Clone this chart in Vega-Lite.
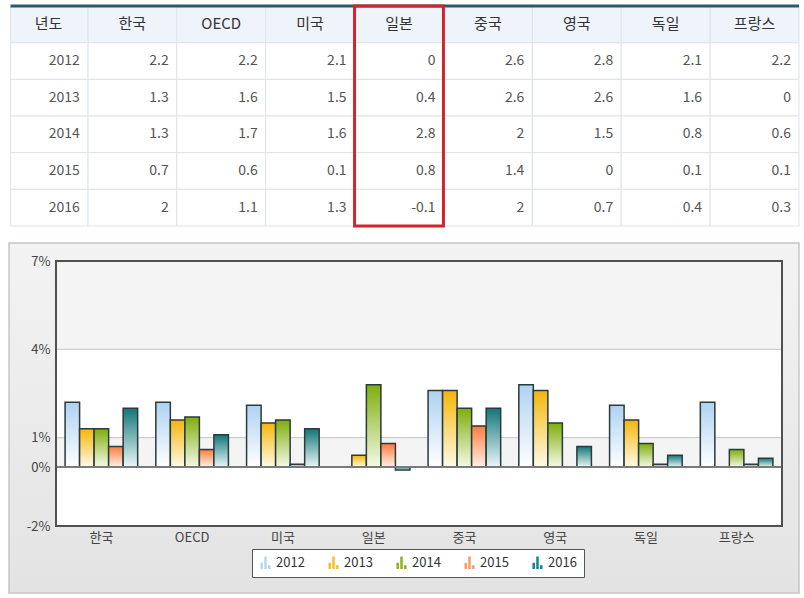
{
  "$schema": "https://vega.github.io/schema/vega-lite/v6.json",
  "background": "white",
  "padding": {"left": 8, "top": 4, "right": 5, "bottom": 6},
  "spacing": 14,
  "config": {
    "font": "Noto Sans CJK KR",
    "view": {"stroke": null}
  },
  "datasets": {
    "gdp": [
      {"국가": "한국", "연도": "2012", "값": 2.2},
      {"국가": "한국", "연도": "2013", "값": 1.3},
      {"국가": "한국", "연도": "2014", "값": 1.3},
      {"국가": "한국", "연도": "2015", "값": 0.7},
      {"국가": "한국", "연도": "2016", "값": 2},
      {"국가": "OECD", "연도": "2012", "값": 2.2},
      {"국가": "OECD", "연도": "2013", "값": 1.6},
      {"국가": "OECD", "연도": "2014", "값": 1.7},
      {"국가": "OECD", "연도": "2015", "값": 0.6},
      {"국가": "OECD", "연도": "2016", "값": 1.1},
      {"국가": "미국", "연도": "2012", "값": 2.1},
      {"국가": "미국", "연도": "2013", "값": 1.5},
      {"국가": "미국", "연도": "2014", "값": 1.6},
      {"국가": "미국", "연도": "2015", "값": 0.1},
      {"국가": "미국", "연도": "2016", "값": 1.3},
      {"국가": "일본", "연도": "2012", "값": 0},
      {"국가": "일본", "연도": "2013", "값": 0.4},
      {"국가": "일본", "연도": "2014", "값": 2.8},
      {"국가": "일본", "연도": "2015", "값": 0.8},
      {"국가": "일본", "연도": "2016", "값": -0.1},
      {"국가": "중국", "연도": "2012", "값": 2.6},
      {"국가": "중국", "연도": "2013", "값": 2.6},
      {"국가": "중국", "연도": "2014", "값": 2},
      {"국가": "중국", "연도": "2015", "값": 1.4},
      {"국가": "중국", "연도": "2016", "값": 2},
      {"국가": "영국", "연도": "2012", "값": 2.8},
      {"국가": "영국", "연도": "2013", "값": 2.6},
      {"국가": "영국", "연도": "2014", "값": 1.5},
      {"국가": "영국", "연도": "2015", "값": 0},
      {"국가": "영국", "연도": "2016", "값": 0.7},
      {"국가": "독일", "연도": "2012", "값": 2.1},
      {"국가": "독일", "연도": "2013", "값": 1.6},
      {"국가": "독일", "연도": "2014", "값": 0.8},
      {"국가": "독일", "연도": "2015", "값": 0.1},
      {"국가": "독일", "연도": "2016", "값": 0.4},
      {"국가": "프랑스", "연도": "2012", "값": 2.2},
      {"국가": "프랑스", "연도": "2013", "값": 0},
      {"국가": "프랑스", "연도": "2014", "값": 0.6},
      {"국가": "프랑스", "연도": "2015", "값": 0.1},
      {"국가": "프랑스", "연도": "2016", "값": 0.3}
    ]
  },
  "vconcat": [
    {
      "width": 743,
      "height": 220,
      "view": {"fill": null, "stroke": null},
      "data": {"name": "gdp"},
      "layer": [
        {
          "mark": {"type": "rect", "fill": "white", "stroke": "#dde3ea", "strokeWidth": 1},
          "encoding": {
            "x": {
              "field": "국가", "type": "nominal",
              "scale": {"domain": ["년도", "한국", "OECD", "미국", "일본", "중국", "영국", "독일", "프랑스"], "range": [-57, 743], "paddingInner": 0, "paddingOuter": 0},
              "axis": null
            },
            "y": {
              "field": "연도", "type": "nominal",
              "scale": {"domain": ["헤더", "2012", "2013", "2014", "2015", "2016"], "paddingInner": 0, "paddingOuter": 0},
              "axis": null
            }
          }
        },
        {
          "transform": [{"aggregate": [{"op": "count", "as": "n"}], "groupby": ["연도"]}],
          "mark": {"type": "rect", "fill": "white", "stroke": "#dde3ea", "strokeWidth": 1},
          "encoding": {
            "x": {"datum": "년도", "type": "nominal", "bandPosition": 0.13},
            "x2": {"datum": "년도", "bandPosition": 1},
            "y": {"field": "연도", "type": "nominal"}
          }
        },
        {
          "transform": [{"aggregate": [{"op": "count", "as": "n"}], "groupby": ["국가"]}],
          "mark": {"type": "rect", "fill": "#eef4fa", "stroke": "#dde3ea", "strokeWidth": 1},
          "encoding": {
            "x": {"field": "국가", "type": "nominal"},
            "y": {"datum": "헤더", "type": "nominal"}
          }
        },
        {
          "data": {"values": [{}]},
          "mark": {"type": "rect", "fill": "#eef4fa", "stroke": "#dde3ea", "strokeWidth": 1},
          "encoding": {
            "x": {"datum": "년도", "type": "nominal", "bandPosition": 0.13},
            "x2": {"datum": "년도", "bandPosition": 1},
            "y": {"datum": "헤더", "type": "nominal"}
          }
        },
        {
          "mark": {"type": "text", "align": "right", "dx": -8, "fontSize": 14, "color": "#555"},
          "encoding": {
            "x": {"field": "국가", "type": "nominal", "bandPosition": 1},
            "y": {"field": "연도", "type": "nominal"},
            "text": {"field": "값", "type": "nominal"}
          }
        },
        {
          "transform": [{"aggregate": [{"op": "count", "as": "n"}], "groupby": ["연도"]}],
          "mark": {"type": "text", "align": "right", "dx": -8, "fontSize": 14, "color": "#555"},
          "encoding": {
            "x": {"datum": "년도", "type": "nominal", "bandPosition": 1},
            "y": {"field": "연도", "type": "nominal"},
            "text": {"field": "연도", "type": "nominal"}
          }
        },
        {
          "transform": [{"aggregate": [{"op": "count", "as": "n"}], "groupby": ["국가"]}],
          "mark": {"type": "text", "align": "center", "fontSize": 15, "color": "#333"},
          "encoding": {
            "x": {"field": "국가", "type": "nominal"},
            "y": {"datum": "헤더", "type": "nominal"},
            "text": {"field": "국가", "type": "nominal"}
          }
        },
        {
          "data": {"values": [{"제목": "년도"}]},
          "mark": {"type": "text", "align": "center", "dx": 5, "fontSize": 15, "color": "#333"},
          "encoding": {
            "x": {"datum": "년도", "type": "nominal"},
            "y": {"datum": "헤더", "type": "nominal"},
            "text": {"field": "제목", "type": "nominal"}
          }
        },
        {
          "data": {"values": [{}]},
          "mark": {"type": "rule", "color": "#2d5966", "strokeWidth": 3},
          "encoding": {
            "x": {"datum": "년도", "type": "nominal", "bandPosition": 0.13},
            "x2": {"datum": "프랑스", "bandPosition": 1},
            "y": {"datum": "헤더", "type": "nominal", "bandPosition": 0}
          }
        },
        {
          "data": {"values": [{}]},
          "mark": {"type": "rect", "fill": null, "stroke": "#cf252c", "strokeWidth": 3},
          "encoding": {"x": {"datum": "일본", "type": "nominal"}}
        }
      ]
    },
    {
      "width": 726,
      "height": 265,
      "view": {"fill": null, "stroke": null},
      "resolve": {"scale": {"x": "independent", "y": "independent"}, "axis": {"x": "independent", "y": "independent"}},
      "layer": [
        {
          "data": {"values": [{}]},
          "mark": {"type": "rect", "stroke": "#c6c6c6", "strokeWidth": 1.5, "fill": {"gradient": "linear", "x1": 0, "y1": 0, "x2": 0, "y2": 1, "stops": [{"offset": 0, "color": "#f3f3f3"}, {"offset": 1, "color": "#e3e3e3"}]}},
          "encoding": {
            "x": {"datum": 0, "type": "quantitative", "scale": {"domain": [0, 1], "range": [-47, 743]}, "axis": null},
            "x2": {"datum": 1},
            "y": {"datum": 0, "type": "quantitative", "scale": {"domain": [0, 1], "range": [-18, 332]}, "axis": null},
            "y2": {"datum": 1}
          }
        },
        {
          "data": {"name": "gdp"},
          "layer": [
            {
              "data": {"values": [{}]},
              "mark": {"type": "rect", "fill": "white"},
              "encoding": {}
            },
            {
              "data": {"values": [{}]},
              "mark": {"type": "rect", "fill": "#f4f4f4"},
              "encoding": {"y": {"datum": 7}, "y2": {"datum": 4}}
            },
            {
              "data": {"values": [{}]},
              "mark": {"type": "rect", "fill": "#f4f4f4"},
              "encoding": {"y": {"datum": 1}, "y2": {"datum": 0}}
            },
            {
              "data": {"values": [{}]},
              "mark": {"type": "rule", "color": "#c4c4c4", "strokeWidth": 1},
              "encoding": {"y": {"datum": 4}}
            },
            {
              "data": {"values": [{}]},
              "mark": {"type": "rule", "color": "#c4c4c4", "strokeWidth": 1},
              "encoding": {"y": {"datum": 1}}
            },
            {
              "mark": {"type": "bar"},
              "encoding": {
                "x": {
                  "field": "국가", "type": "nominal", "sort": null,
                  "scale": {"domain": ["한국", "OECD", "미국", "일본", "중국", "영국", "독일", "프랑스"], "paddingInner": 0.2, "paddingOuter": 0.1},
                  "axis": {"title": null, "ticks": false, "domain": false, "labelAngle": 0, "labelFontSize": 13, "labelColor": "#444", "labelPadding": 5, "zindex": 1}
                },
                "xOffset": {"field": "연도", "type": "nominal", "scale": {"paddingInner": 0, "paddingOuter": 0}},
                "y": {
                  "field": "값", "type": "quantitative",
                  "scale": {"domain": [-2, 7], "nice": false, "zero": false},
                  "axis": {"title": null, "values": [-2, 0, 1, 4, 7], "labelExpr": "datum.value + '%'", "grid": false, "ticks": false, "domain": false, "labelFontSize": 13, "labelColor": "#444", "labelPadding": 6, "minExtent": 45, "maxExtent": 45, "zindex": 1}
                },
                "color": {
                  "field": "연도", "type": "nominal",
                  "scale": {"range": ["#b5d9ee", "#f5c132", "#8ab521", "#f3a06c", "#17868c"]},
                  "legend": {
                    "orient": "none", "legendX": 196, "legendY": 543, "direction": "horizontal", "title": null,
                    "fillColor": "white", "strokeColor": "#555", "padding": 7,
                    "symbolType": "M-0.8,1V0H-0.4V1Z M-0.2,1V-1H0.2V1Z M0.4,1V0.4H0.8V1Z",
                    "symbolSize": 160, "symbolStrokeWidth": 0,
                    "labelFontSize": 13, "labelColor": "#333", "columnPadding": 22
                  }
                }
              }
            },
            {
              "mark": {"type": "bar", "stroke": "#2b3a3a", "strokeWidth": 1.5},
              "encoding": {
                "x": {"field": "국가", "type": "nominal", "sort": null},
                "xOffset": {"field": "연도", "type": "nominal"},
                "y": {"field": "값", "type": "quantitative"},
                "fill": {
                  "condition": [
                    {"test": "datum['연도'] === '2012'", "value": {"gradient": "linear", "x1": 0, "y1": 0, "x2": 0, "y2": 1, "stops": [{"offset": 0, "color": "#aed2f2"}, {"offset": 1, "color": "#ffffff"}]}},
                    {"test": "datum['연도'] === '2013'", "value": {"gradient": "linear", "x1": 0, "y1": 0, "x2": 0, "y2": 1, "stops": [{"offset": 0, "color": "#f5b60a"}, {"offset": 1, "color": "#fffbe8"}]}},
                    {"test": "datum['연도'] === '2014'", "value": {"gradient": "linear", "x1": 0, "y1": 0, "x2": 0, "y2": 1, "stops": [{"offset": 0, "color": "#7eae0c"}, {"offset": 1, "color": "#f6fae8"}]}},
                    {"test": "datum['연도'] === '2015'", "value": {"gradient": "linear", "x1": 0, "y1": 0, "x2": 0, "y2": 1, "stops": [{"offset": 0, "color": "#ff7c3c"}, {"offset": 1, "color": "#fff1ea"}]}}
                  ],
                  "value": {"gradient": "linear", "x1": 0, "y1": 0, "x2": 0, "y2": 1, "stops": [{"offset": 0, "color": "#127678"}, {"offset": 1, "color": "#eaf7f8"}]}
                }
              }
            },
            {
              "data": {"values": [{}]},
              "mark": {"type": "rule", "color": "#7a7a7a", "strokeWidth": 2},
              "encoding": {"y": {"datum": 0}}
            },
            {
              "data": {"values": [{}]},
              "mark": {"type": "rect", "fill": null, "stroke": "#505050", "strokeWidth": 2},
              "encoding": {}
            }
          ]
        }
      ]
    }
  ]
}
